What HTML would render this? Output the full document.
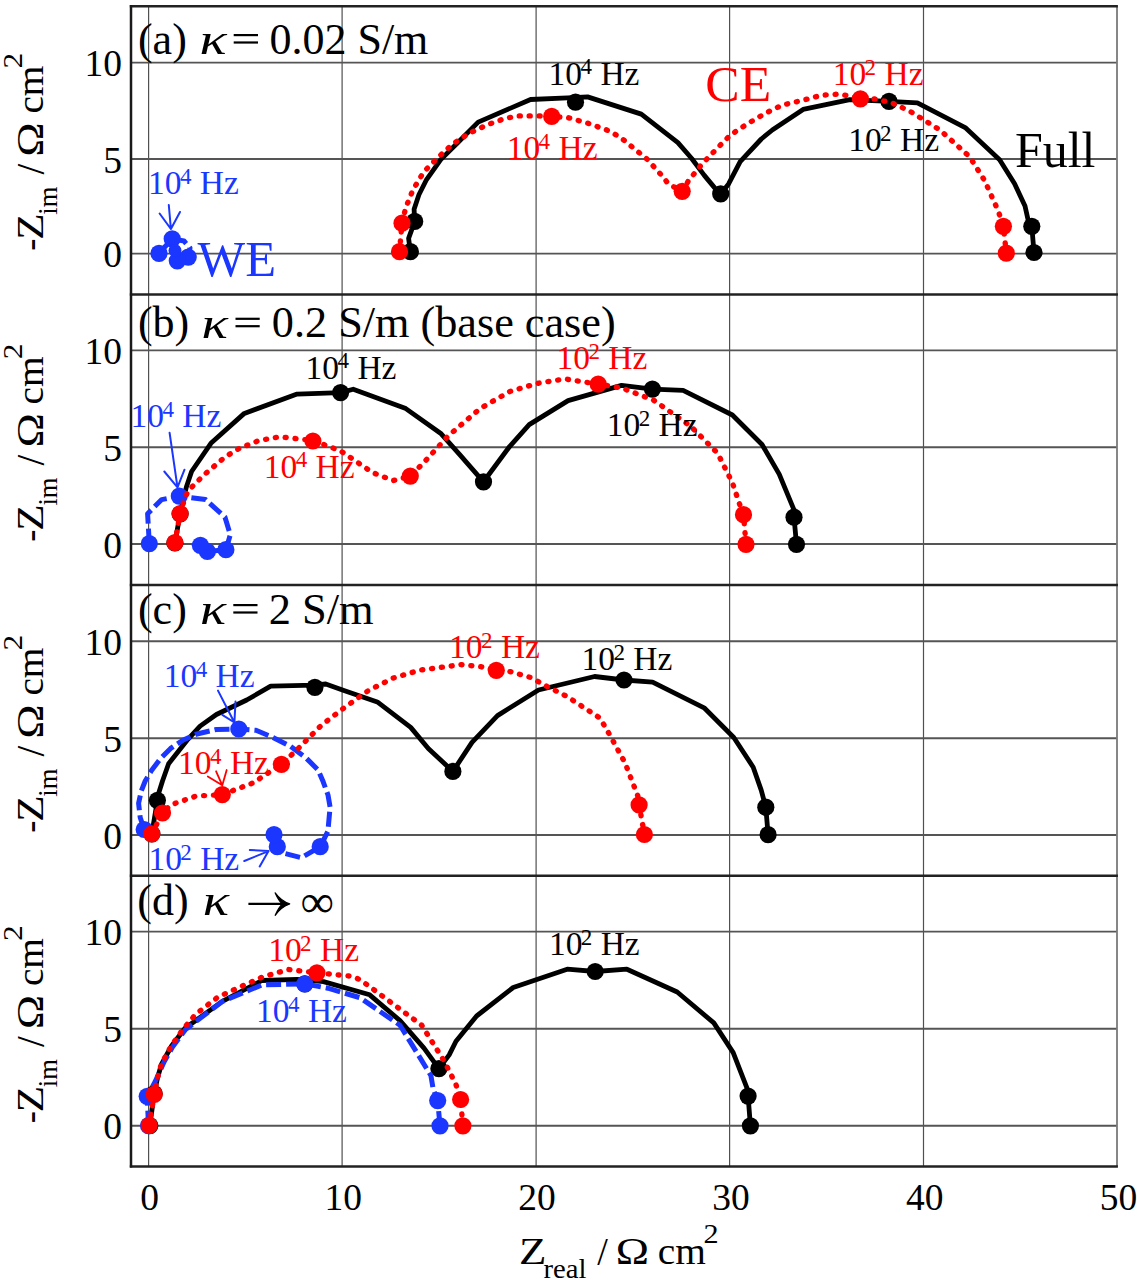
<!DOCTYPE html><html><head><meta charset="utf-8"><style>html,body{margin:0;padding:0;background:#fff;}svg{display:block}text{font-family:"Liberation Serif",serif;}</style></head><body>
<div id="w">
<svg width="1137" height="1280" viewBox="0 0 1137 1280">
<rect x="0" y="0" width="1137" height="1280" fill="#fff"/>
<line x1="148.6" y1="6.2" x2="148.6" y2="294.6" stroke="#505050" stroke-width="1.2"/>
<line x1="342.1" y1="6.2" x2="342.1" y2="294.6" stroke="#505050" stroke-width="1.2"/>
<line x1="536.1" y1="6.2" x2="536.1" y2="294.6" stroke="#505050" stroke-width="1.2"/>
<line x1="729.6" y1="6.2" x2="729.6" y2="294.6" stroke="#505050" stroke-width="1.2"/>
<line x1="923.5" y1="6.2" x2="923.5" y2="294.6" stroke="#505050" stroke-width="1.2"/>
<line x1="131.0" y1="62.6" x2="1117.0" y2="62.6" stroke="#555" stroke-width="1.9"/>
<line x1="131.0" y1="159.0" x2="1117.0" y2="159.0" stroke="#555" stroke-width="1.9"/>
<line x1="131.0" y1="253.6" x2="1117.0" y2="253.6" stroke="#555" stroke-width="1.9"/>
<line x1="148.6" y1="294.6" x2="148.6" y2="585.0" stroke="#505050" stroke-width="1.2"/>
<line x1="342.1" y1="294.6" x2="342.1" y2="585.0" stroke="#505050" stroke-width="1.2"/>
<line x1="536.1" y1="294.6" x2="536.1" y2="585.0" stroke="#505050" stroke-width="1.2"/>
<line x1="729.6" y1="294.6" x2="729.6" y2="585.0" stroke="#505050" stroke-width="1.2"/>
<line x1="923.5" y1="294.6" x2="923.5" y2="585.0" stroke="#505050" stroke-width="1.2"/>
<line x1="131.0" y1="350.4" x2="1117.0" y2="350.4" stroke="#555" stroke-width="1.9"/>
<line x1="131.0" y1="447.2" x2="1117.0" y2="447.2" stroke="#555" stroke-width="1.9"/>
<line x1="131.0" y1="544.0" x2="1117.0" y2="544.0" stroke="#555" stroke-width="1.9"/>
<line x1="148.6" y1="585.0" x2="148.6" y2="875.8" stroke="#505050" stroke-width="1.2"/>
<line x1="342.1" y1="585.0" x2="342.1" y2="875.8" stroke="#505050" stroke-width="1.2"/>
<line x1="536.1" y1="585.0" x2="536.1" y2="875.8" stroke="#505050" stroke-width="1.2"/>
<line x1="729.6" y1="585.0" x2="729.6" y2="875.8" stroke="#505050" stroke-width="1.2"/>
<line x1="923.5" y1="585.0" x2="923.5" y2="875.8" stroke="#505050" stroke-width="1.2"/>
<line x1="131.0" y1="641.3" x2="1117.0" y2="641.3" stroke="#555" stroke-width="1.9"/>
<line x1="131.0" y1="738.2" x2="1117.0" y2="738.2" stroke="#555" stroke-width="1.9"/>
<line x1="131.0" y1="835.0" x2="1117.0" y2="835.0" stroke="#555" stroke-width="1.9"/>
<line x1="148.6" y1="875.8" x2="148.6" y2="1166.4" stroke="#505050" stroke-width="1.2"/>
<line x1="342.1" y1="875.8" x2="342.1" y2="1166.4" stroke="#505050" stroke-width="1.2"/>
<line x1="536.1" y1="875.8" x2="536.1" y2="1166.4" stroke="#505050" stroke-width="1.2"/>
<line x1="729.6" y1="875.8" x2="729.6" y2="1166.4" stroke="#505050" stroke-width="1.2"/>
<line x1="923.5" y1="875.8" x2="923.5" y2="1166.4" stroke="#505050" stroke-width="1.2"/>
<line x1="131.0" y1="931.6" x2="1117.0" y2="931.6" stroke="#555" stroke-width="1.9"/>
<line x1="131.0" y1="1028.7" x2="1117.0" y2="1028.7" stroke="#555" stroke-width="1.9"/>
<line x1="131.0" y1="1125.7" x2="1117.0" y2="1125.7" stroke="#555" stroke-width="1.9"/>
<line x1="1117.0" y1="6.2" x2="1117.0" y2="1166.4" stroke="#7a7a7a" stroke-width="1.8"/>
<line x1="129.8" y1="6.2" x2="1117.9" y2="6.2" stroke="#222" stroke-width="2.5"/>
<line x1="129.8" y1="294.6" x2="1117.9" y2="294.6" stroke="#222" stroke-width="2.5"/>
<line x1="129.8" y1="585.0" x2="1117.9" y2="585.0" stroke="#222" stroke-width="2.5"/>
<line x1="129.8" y1="875.8" x2="1117.9" y2="875.8" stroke="#222" stroke-width="2.5"/>
<line x1="129.8" y1="1166.4" x2="1117.9" y2="1166.4" stroke="#222" stroke-width="2.5"/>
<line x1="131.0" y1="5.0" x2="131.0" y2="1167.6000000000001" stroke="#1a1a1a" stroke-width="2.5"/>
<polyline points="410.4,251.7 408.6,238.4 414.7,221.4 414.1,209.3 418.9,194.8 426.2,180.2 440.7,159.6 457.7,142.7 478.2,122.1 530.6,99.5 567.5,97.9 587.6,96.9 641.3,114.1 677.9,142.7 691.7,158.5 704.3,175.4 714.9,188.1 720.7,193.9 728.6,183.9 740.2,161.7 761.3,139.0 772.3,130.0 803.1,109.4 849.9,99.6 889.0,101.4 917.4,102.9 965.2,127.6 999.6,159.8 1014.6,183.7 1025.0,206.1 1028.0,219.6 1031.8,226.3 1034.0,252.5" fill="none" stroke="#000" stroke-width="4.8" stroke-linejoin="round" stroke-linecap="round"/>
<circle cx="410.4" cy="251.7" r="8.6" fill="#000"/>
<circle cx="414.7" cy="221.4" r="8.6" fill="#000"/>
<circle cx="575.5" cy="102.2" r="8.6" fill="#000"/>
<circle cx="720.7" cy="193.9" r="8.6" fill="#000"/>
<circle cx="889.0" cy="101.4" r="8.6" fill="#000"/>
<circle cx="1031.8" cy="226.3" r="8.6" fill="#000"/>
<circle cx="1034.0" cy="252.5" r="8.6" fill="#000"/>
<polyline points="159.0,253.4 172.2,238.8 184.0,241.0 190.0,248.0 188.2,257.1 177.3,260.8" fill="none" stroke="#1a36ff" stroke-width="5.0" stroke-dasharray="15 5" stroke-linejoin="round"/>
<circle cx="159.0" cy="253.4" r="8.6" fill="#1a36ff"/>
<circle cx="172.2" cy="238.8" r="8.6" fill="#1a36ff"/>
<circle cx="188.2" cy="257.1" r="8.6" fill="#1a36ff"/>
<circle cx="177.3" cy="260.8" r="8.6" fill="#1a36ff"/>
<polyline points="399.5,251.7 402.0,223.2 405.6,208.1 412.9,189.9 423.8,171.8 438.3,157.2 452.8,143.9 469.8,133.0 487.9,124.5 505.0,118.5 518.0,115.9 539.0,115.9 551.7,116.4 567.5,117.5 587.8,123.2 607.5,130.3 620.0,137.0 647.0,159.1 661.0,174.6 668.4,183.9 682.2,191.3 688.5,180.7 702.2,163.8 715.9,149.6 730.7,134.8 747.6,123.7 765.5,113.2 782.2,105.1 803.1,100.2 821.6,95.2 840.0,94.0 860.4,98.9 874.5,98.9 892.0,102.9 909.9,111.2 939.8,129.9 969.7,156.8 984.7,180.7 998.1,210.6 1003.4,226.3 1006.3,253.2" fill="none" stroke="#ff0000" stroke-width="5.4" stroke-dasharray="1.0 8.9" stroke-linecap="round" stroke-linejoin="round"/>
<circle cx="399.5" cy="251.7" r="8.6" fill="#ff0000"/>
<circle cx="402.0" cy="223.2" r="8.6" fill="#ff0000"/>
<circle cx="551.7" cy="116.4" r="8.6" fill="#ff0000"/>
<circle cx="682.2" cy="191.3" r="8.6" fill="#ff0000"/>
<circle cx="860.4" cy="98.9" r="8.6" fill="#ff0000"/>
<circle cx="1003.4" cy="226.3" r="8.6" fill="#ff0000"/>
<circle cx="1006.3" cy="253.2" r="8.6" fill="#ff0000"/>
<polyline points="174.9,543.0 180.1,514.0 186.3,487.3 191.6,471.5 210.9,443.3 244.3,413.4 297.1,394.1 340.6,392.6 353.2,389.2 405.8,408.6 441.2,433.8 459.5,454.3 483.5,481.8 509.8,446.3 529.2,424.6 568.1,400.6 621.6,385.4 652.4,389.1 683.1,390.3 732.4,415.0 762.0,444.5 779.2,474.1 794.0,509.8 794.0,517.2 796.5,544.3" fill="none" stroke="#000" stroke-width="4.8" stroke-linejoin="round" stroke-linecap="round"/>
<circle cx="174.9" cy="543.0" r="8.6" fill="#000"/>
<circle cx="180.1" cy="514.0" r="8.6" fill="#000"/>
<circle cx="340.6" cy="392.6" r="8.6" fill="#000"/>
<circle cx="483.5" cy="481.8" r="8.6" fill="#000"/>
<circle cx="652.4" cy="389.1" r="8.6" fill="#000"/>
<circle cx="794.0" cy="517.2" r="8.6" fill="#000"/>
<circle cx="796.5" cy="544.3" r="8.6" fill="#000"/>
<polyline points="149.3,543.6 147.6,513.7 161.7,499.6 179.3,496.1 205.6,499.6 225.0,517.2 230.3,534.8 225.9,549.7 207.4,551.5 200.4,545.3" fill="none" stroke="#1a36ff" stroke-width="5.0" stroke-dasharray="15 5" stroke-linejoin="round"/>
<circle cx="149.3" cy="543.6" r="8.6" fill="#1a36ff"/>
<circle cx="179.3" cy="496.1" r="8.6" fill="#1a36ff"/>
<circle cx="225.9" cy="549.7" r="8.6" fill="#1a36ff"/>
<circle cx="207.4" cy="551.5" r="8.6" fill="#1a36ff"/>
<circle cx="200.4" cy="545.3" r="8.6" fill="#1a36ff"/>
<polyline points="174.9,542.7 180.1,513.7 184.5,499.6 188.0,490.8 203.9,475.0 225.0,457.0 239.1,448.5 259.0,440.5 279.5,436.8 312.9,440.5 340.6,450.9 372.6,472.6 393.2,480.6 410.3,476.1 422.9,463.5 448.1,436.0 480.1,408.6 509.8,391.5 537.2,383.4 564.7,378.9 598.2,384.2 621.6,387.9 653.6,400.2 690.5,426.1 717.6,453.2 732.4,482.7 742.3,512.3 743.5,514.7 746.0,544.3" fill="none" stroke="#ff0000" stroke-width="5.4" stroke-dasharray="1.0 8.9" stroke-linecap="round" stroke-linejoin="round"/>
<circle cx="174.9" cy="542.7" r="8.6" fill="#ff0000"/>
<circle cx="180.1" cy="513.7" r="8.6" fill="#ff0000"/>
<circle cx="312.9" cy="441.0" r="8.6" fill="#ff0000"/>
<circle cx="410.3" cy="476.1" r="8.6" fill="#ff0000"/>
<circle cx="598.2" cy="384.2" r="8.6" fill="#ff0000"/>
<circle cx="743.5" cy="514.7" r="8.6" fill="#ff0000"/>
<circle cx="746.0" cy="544.3" r="8.6" fill="#ff0000"/>
<polyline points="151.8,833.8 157.4,800.3 157.4,797.2 162.5,781.0 168.6,763.7 187.9,739.3 200.1,726.1 216.4,714.5 246.7,700.0 270.7,686.2 314.7,685.1 325.7,684.0 343.9,690.5 377.3,701.9 410.7,727.4 428.3,748.5 452.9,771.4 472.0,742.4 497.5,715.6 538.5,690.0 594.6,676.5 624.0,680.0 652.6,682.1 704.1,707.8 733.8,737.5 753.2,767.2 761.2,790.1 765.8,807.2 768.1,834.7" fill="none" stroke="#000" stroke-width="4.8" stroke-linejoin="round" stroke-linecap="round"/>
<circle cx="151.8" cy="833.8" r="8.6" fill="#000"/>
<circle cx="157.4" cy="800.3" r="8.6" fill="#000"/>
<circle cx="314.9" cy="687.3" r="8.6" fill="#000"/>
<circle cx="452.9" cy="771.4" r="8.6" fill="#000"/>
<circle cx="624.0" cy="680.0" r="8.6" fill="#000"/>
<circle cx="765.8" cy="807.2" r="8.6" fill="#000"/>
<circle cx="768.1" cy="834.7" r="8.6" fill="#000"/>
<polyline points="144.2,829.5 140.2,817.5 138.6,803.3 141.2,791.1 145.2,781.0 151.3,770.8 160.5,758.6 170.6,748.4 182.8,740.3 196.0,734.2 216.4,729.5 238.8,729.0 256.0,730.3 271.8,736.9 290.3,746.2 306.1,758.0 318.0,769.9 323.2,781.8 328.0,795.0 330.1,807.1 327.9,831.3 320.2,846.7 301.5,857.7 283.9,853.3 277.3,846.7 274.0,834.6" fill="none" stroke="#1a36ff" stroke-width="5.0" stroke-dasharray="15 5" stroke-linejoin="round"/>
<circle cx="144.2" cy="829.5" r="8.6" fill="#1a36ff"/>
<circle cx="238.8" cy="729.0" r="8.6" fill="#1a36ff"/>
<circle cx="320.2" cy="846.7" r="8.6" fill="#1a36ff"/>
<circle cx="277.3" cy="846.7" r="8.6" fill="#1a36ff"/>
<circle cx="274.0" cy="834.6" r="8.6" fill="#1a36ff"/>
<polyline points="151.8,833.8 162.5,813.0 170.7,804.9 196.0,796.1 222.3,794.6 253.1,782.9 281.4,764.3 296.4,750.3 321.0,725.6 343.9,708.0 368.5,690.5 393.1,678.1 419.5,670.2 445.9,666.7 461.1,664.6 480.8,666.7 496.3,670.3 510.4,671.7 530.1,677.3 547.0,686.4 566.7,696.3 600.0,718.1 609.7,734.8 625.0,762.8 637.8,796.0 639.1,804.9 644.4,834.5" fill="none" stroke="#ff0000" stroke-width="5.4" stroke-dasharray="1.0 8.9" stroke-linecap="round" stroke-linejoin="round"/>
<circle cx="151.8" cy="833.8" r="8.6" fill="#ff0000"/>
<circle cx="162.5" cy="813.0" r="8.6" fill="#ff0000"/>
<circle cx="222.3" cy="794.6" r="8.6" fill="#ff0000"/>
<circle cx="281.4" cy="764.3" r="8.6" fill="#ff0000"/>
<circle cx="496.3" cy="670.3" r="8.6" fill="#ff0000"/>
<circle cx="639.1" cy="804.9" r="8.6" fill="#ff0000"/>
<circle cx="644.4" cy="834.5" r="8.6" fill="#ff0000"/>
<polyline points="149.8,1125.6 154.2,1093.7 157.5,1078.0 161.4,1064.5 171.5,1046.0 185.0,1028.3 222.3,1001.4 261.9,980.5 297.1,979.4 323.5,981.6 369.7,994.8 400.0,1020.6 424.0,1048.1 438.9,1068.6 449.2,1054.9 456.0,1041.2 476.6,1016.0 513.2,987.5 567.2,969.2 595.2,971.5 626.9,969.2 677.2,992.0 713.8,1022.9 733.2,1052.6 747.0,1088.1 748.1,1096.1 750.4,1125.8" fill="none" stroke="#000" stroke-width="4.8" stroke-linejoin="round" stroke-linecap="round"/>
<circle cx="149.8" cy="1125.6" r="8.6" fill="#000"/>
<circle cx="154.2" cy="1093.7" r="8.6" fill="#000"/>
<circle cx="304.8" cy="983.8" r="8.6" fill="#000"/>
<circle cx="438.9" cy="1068.6" r="8.6" fill="#000"/>
<circle cx="595.2" cy="971.5" r="8.6" fill="#000"/>
<circle cx="748.1" cy="1096.1" r="8.6" fill="#000"/>
<circle cx="750.4" cy="1125.8" r="8.6" fill="#000"/>
<polyline points="148.5,1125.6 147.2,1096.3 155.0,1082.0 159.5,1072.0 164.0,1062.0 172.5,1047.0 185.5,1029.5 222.3,1001.4 261.9,984.9 304.8,983.8 327.9,988.2 360.0,997.7 400.0,1025.2 430.9,1075.5 433.2,1089.2 437.7,1100.6 440.0,1125.8" fill="none" stroke="#1a36ff" stroke-width="5.0" stroke-dasharray="15 5" stroke-linejoin="round"/>
<circle cx="148.5" cy="1125.6" r="8.6" fill="#1a36ff"/>
<circle cx="147.2" cy="1096.3" r="8.6" fill="#1a36ff"/>
<circle cx="304.8" cy="983.8" r="8.6" fill="#1a36ff"/>
<circle cx="437.7" cy="1100.6" r="8.6" fill="#1a36ff"/>
<circle cx="440.0" cy="1125.8" r="8.6" fill="#1a36ff"/>
<polyline points="149.2,1125.3 154.2,1094.3 157.5,1078.0 161.4,1063.8 171.5,1045.5 183.7,1028.3 195.9,1014.1 218.0,997.0 261.9,977.2 288.3,969.5 316.9,972.8 349.9,976.1 360.0,979.5 421.7,1025.2 444.6,1061.8 456.0,1084.6 460.6,1099.5 462.9,1125.8" fill="none" stroke="#ff0000" stroke-width="5.4" stroke-dasharray="1.0 8.9" stroke-linecap="round" stroke-linejoin="round"/>
<circle cx="149.2" cy="1125.3" r="8.6" fill="#ff0000"/>
<circle cx="154.2" cy="1094.3" r="8.6" fill="#ff0000"/>
<circle cx="316.9" cy="972.8" r="8.6" fill="#ff0000"/>
<circle cx="460.6" cy="1099.5" r="8.6" fill="#ff0000"/>
<circle cx="462.9" cy="1125.8" r="8.6" fill="#ff0000"/>
<circle cx="175.0" cy="250.5" r="6.5" fill="#1a36ff"/>
<text x="548.6" y="84.5" font-size="33.5" fill="#000">10<tspan font-size="23" dx="-1.6" dy="-10.2">4</tspan><tspan dy="10.2"> Hz</tspan></text>
<text x="506.7" y="158.9" font-size="33.5" fill="#ff0000">10<tspan font-size="23" dx="-1.6" dy="-10.2">4</tspan><tspan dy="10.2"> Hz</tspan></text>
<text x="148.0" y="193.8" font-size="33.5" fill="#1a36ff">10<tspan font-size="23" dx="-1.6" dy="-10.2">4</tspan><tspan dy="10.2"> Hz</tspan></text>
<text x="832.7" y="85.2" font-size="33.5" fill="#ff0000">10<tspan font-size="23" dx="-1.6" dy="-10.2">2</tspan><tspan dy="10.2"> Hz</tspan></text>
<text x="848.2" y="151.3" font-size="33.5" fill="#000">10<tspan font-size="23" dx="-1.6" dy="-10.2">2</tspan><tspan dy="10.2"> Hz</tspan></text>
<text x="705.3" y="100.6" font-size="51.5" fill="#ff0000">CE</text>
<text x="1014.9" y="167.4" font-size="50" fill="#000">Full</text>
<text x="197.5" y="276.3" font-size="50.5" fill="#1a36ff">WE</text>
<text x="305.6" y="378.6" font-size="33.5" fill="#000">10<tspan font-size="23" dx="-1.6" dy="-10.2">4</tspan><tspan dy="10.2"> Hz</tspan></text>
<text x="130.5" y="427.4" font-size="33.5" fill="#1a36ff">10<tspan font-size="23" dx="-1.6" dy="-10.2">4</tspan><tspan dy="10.2"> Hz</tspan></text>
<text x="263.8" y="477.6" font-size="33.5" fill="#ff0000">10<tspan font-size="23" dx="-1.6" dy="-10.2">4</tspan><tspan dy="10.2"> Hz</tspan></text>
<text x="556.5" y="369.4" font-size="33.5" fill="#ff0000">10<tspan font-size="23" dx="-1.6" dy="-10.2">2</tspan><tspan dy="10.2"> Hz</tspan></text>
<text x="606.8" y="435.9" font-size="33.5" fill="#000">10<tspan font-size="23" dx="-1.6" dy="-10.2">2</tspan><tspan dy="10.2"> Hz</tspan></text>
<text x="163.8" y="687.3" font-size="33.5" fill="#1a36ff">10<tspan font-size="23" dx="-1.6" dy="-10.2">4</tspan><tspan dy="10.2"> Hz</tspan></text>
<text x="178.1" y="774.1" font-size="33.5" fill="#ff0000">10<tspan font-size="23" dx="-1.6" dy="-10.2">4</tspan><tspan dy="10.2"> Hz</tspan></text>
<text x="148.4" y="869.8" font-size="33.5" fill="#1a36ff">10<tspan font-size="23" dx="-1.6" dy="-10.2">2</tspan><tspan dy="10.2"> Hz</tspan></text>
<text x="449.1" y="658.3" font-size="33.5" fill="#ff0000">10<tspan font-size="23" dx="-1.6" dy="-10.2">2</tspan><tspan dy="10.2"> Hz</tspan></text>
<text x="581.5" y="670.0" font-size="33.5" fill="#000">10<tspan font-size="23" dx="-1.6" dy="-10.2">2</tspan><tspan dy="10.2"> Hz</tspan></text>
<text x="268.2" y="960.7" font-size="33.5" fill="#ff0000">10<tspan font-size="23" dx="-1.6" dy="-10.2">2</tspan><tspan dy="10.2"> Hz</tspan></text>
<text x="256.1" y="1022.2" font-size="33.5" fill="#1a36ff">10<tspan font-size="23" dx="-1.6" dy="-10.2">4</tspan><tspan dy="10.2"> Hz</tspan></text>
<text x="548.9" y="955.4" font-size="33.5" fill="#000">10<tspan font-size="23" dx="-1.6" dy="-10.2">2</tspan><tspan dy="10.2"> Hz</tspan></text>
<path d="M168.8,205 L170.9,229 M159.6,213.5 L170.9,229 L180,212" fill="none" stroke="#1a36ff" stroke-width="2.0" stroke-linecap="round" stroke-linejoin="round"/>
<path d="M169.6,432.8 L177.5,487.3 M164.3,471.5 L177.5,487.3 L184.5,469.7" fill="none" stroke="#1a36ff" stroke-width="2.0" stroke-linecap="round" stroke-linejoin="round"/>
<path d="M218,690.6 L234.4,722.5 M222.3,714.8 L234.4,722.5 L235.5,701.6" fill="none" stroke="#1a36ff" stroke-width="2.0" stroke-linecap="round" stroke-linejoin="round"/>
<path d="M244.3,861 L268.5,851.1 M249.8,850 L268.5,851.1 L259.7,866.5" fill="none" stroke="#1a36ff" stroke-width="2.0" stroke-linecap="round" stroke-linejoin="round"/>
<path d="M216.1,771.3 L222.3,785.3 M207.8,776.5 L222.3,785.3 L226.7,770" fill="none" stroke="#ff0000" stroke-width="1.8" stroke-linecap="round" stroke-linejoin="round"/>
<text x="137.96" y="53.50" font-size="44" fill="#000">(a)</text>
<text transform="translate(199.61,53.80) scale(1.2865,1.0)" x="0" y="0" font-size="44" fill="#000" font-style="italic">κ</text>
<rect x="233.7" y="34.00" width="24.30" height="2.2" fill="#000"/>
<rect x="233.7" y="41.40" width="24.30" height="2.2" fill="#000"/>
<text x="269.43" y="53.50" font-size="44" fill="#000">0.02 S/m</text>
<text x="137.96" y="337.20" font-size="44" fill="#000">(b)</text>
<text transform="translate(201.46,337.50) scale(1.2515,1.0)" x="0" y="0" font-size="44" fill="#000" font-style="italic">κ</text>
<rect x="235.5" y="317.70" width="24.20" height="2.2" fill="#000"/>
<rect x="235.5" y="325.10" width="24.20" height="2.2" fill="#000"/>
<text transform="translate(271.82,337.20) scale(1.0050,1.0)" x="0" y="0" font-size="44" fill="#000">0.2 S/m (base case)</text>
<text x="137.96" y="623.50" font-size="44" fill="#000">(c)</text>
<text transform="translate(199.99,623.80) scale(1.2365,1.0)" x="0" y="0" font-size="44" fill="#000" font-style="italic">κ</text>
<rect x="233.3" y="604.00" width="24.20" height="2.2" fill="#000"/>
<rect x="233.3" y="611.40" width="24.20" height="2.2" fill="#000"/>
<text transform="translate(268.64,623.50) scale(1.0100,1.0)" x="0" y="0" font-size="44" fill="#000">2 S/m</text>
<text x="137.26" y="914.70" font-size="44" fill="#000">(d)</text>
<text transform="translate(202.77,915.00) scale(1.2465,1.0)" x="0" y="0" font-size="44" fill="#000" font-style="italic">κ</text>
<path d="M248.4,903.9 L286,903.9" stroke="#000" stroke-width="2.2" fill="none"/>
<path d="M275.2,892.9 Q281,901 289.7,903.9 Q281,907 275.2,915.3 Q279,906.5 282.5,903.9 Q279,901.5 275.2,892.9 Z" fill="#000" stroke="#000" stroke-width="1.2" stroke-linejoin="round"/>
<text transform="translate(300.62,916.90) scale(1.0204,1.0)" x="0" y="0" font-size="46" fill="#000">∞</text>
<text x="122" y="76.1" font-size="37.5" text-anchor="end" fill="#000">10</text>
<text x="122" y="172.5" font-size="37.5" text-anchor="end" fill="#000">5</text>
<text x="122" y="267.1" font-size="37.5" text-anchor="end" fill="#000">0</text>
<text x="122" y="363.9" font-size="37.5" text-anchor="end" fill="#000">10</text>
<text x="122" y="460.7" font-size="37.5" text-anchor="end" fill="#000">5</text>
<text x="122" y="557.5" font-size="37.5" text-anchor="end" fill="#000">0</text>
<text x="122" y="654.8" font-size="37.5" text-anchor="end" fill="#000">10</text>
<text x="122" y="751.7" font-size="37.5" text-anchor="end" fill="#000">5</text>
<text x="122" y="848.5" font-size="37.5" text-anchor="end" fill="#000">0</text>
<text x="122" y="945.1" font-size="37.5" text-anchor="end" fill="#000">10</text>
<text x="122" y="1042.2" font-size="37.5" text-anchor="end" fill="#000">5</text>
<text x="122" y="1139.2" font-size="37.5" text-anchor="end" fill="#000">0</text>
<text x="149.5" y="1209.5" font-size="37.5" text-anchor="middle" fill="#000">0</text>
<text x="343.3" y="1209.5" font-size="37.5" text-anchor="middle" fill="#000">10</text>
<text x="537.1" y="1209.5" font-size="37.5" text-anchor="middle" fill="#000">20</text>
<text x="730.9" y="1209.5" font-size="37.5" text-anchor="middle" fill="#000">30</text>
<text x="924.7" y="1209.5" font-size="37.5" text-anchor="middle" fill="#000">40</text>
<text x="1118.5" y="1209.5" font-size="37.5" text-anchor="middle" fill="#000">50</text>
<g transform="translate(521.2,1264)"><text transform="translate(-2.15,0.00) scale(1.1811,1.0)" x="0" y="0" font-size="38" fill="#000">Z</text><text transform="translate(22.23,14.40) scale(1.0232,1.0)" x="0" y="0" font-size="28" fill="#000">real</text><text transform="translate(76.00,0.60) scale(0.9532,1.0)" x="0" y="0" font-size="40" fill="#000">/</text><text transform="translate(94.67,0.00) scale(1.1935,1.0)" x="0" y="0" font-size="37.5" fill="#000">Ω</text><text transform="translate(136.60,0.00) scale(1.0502,1.0)" x="0" y="0" font-size="37.5" fill="#000">cm</text><text transform="translate(182.27,-21.20) scale(1.1176,1.0)" x="0" y="0" font-size="27" fill="#000">2</text></g>
<g transform="translate(43.2,249.7) rotate(-90)"><text transform="translate(-1.05,0.00) scale(0.9615,1.0)" x="0" y="0" font-size="38" fill="#000">-</text><text transform="translate(9.93,0.00) scale(1.1345,1.0)" x="0" y="0" font-size="38" fill="#000">Z</text><text transform="translate(35.04,13.60) scale(0.9498,1.0)" x="0" y="0" font-size="28" fill="#000">im</text><text transform="translate(75.20,0.60) scale(0.9622,1.0)" x="0" y="0" font-size="40" fill="#000">/</text><text transform="translate(92.99,0.00) scale(1.2353,1.0)" x="0" y="0" font-size="37.5" fill="#000">Ω</text><text transform="translate(136.10,0.00) scale(1.0502,1.0)" x="0" y="0" font-size="37.5" fill="#000">cm</text><text transform="translate(181.32,-21.20) scale(1.1638,1.0)" x="0" y="0" font-size="27" fill="#000">2</text></g>
<g transform="translate(43.2,540.6) rotate(-90)"><text transform="translate(-1.05,0.00) scale(0.9615,1.0)" x="0" y="0" font-size="38" fill="#000">-</text><text transform="translate(9.93,0.00) scale(1.1345,1.0)" x="0" y="0" font-size="38" fill="#000">Z</text><text transform="translate(35.04,13.60) scale(0.9498,1.0)" x="0" y="0" font-size="28" fill="#000">im</text><text transform="translate(75.20,0.60) scale(0.9622,1.0)" x="0" y="0" font-size="40" fill="#000">/</text><text transform="translate(92.99,0.00) scale(1.2353,1.0)" x="0" y="0" font-size="37.5" fill="#000">Ω</text><text transform="translate(136.10,0.00) scale(1.0502,1.0)" x="0" y="0" font-size="37.5" fill="#000">cm</text><text transform="translate(181.32,-21.20) scale(1.1638,1.0)" x="0" y="0" font-size="27" fill="#000">2</text></g>
<g transform="translate(43.2,831.7) rotate(-90)"><text transform="translate(-1.05,0.00) scale(0.9615,1.0)" x="0" y="0" font-size="38" fill="#000">-</text><text transform="translate(9.93,0.00) scale(1.1345,1.0)" x="0" y="0" font-size="38" fill="#000">Z</text><text transform="translate(35.04,13.60) scale(0.9498,1.0)" x="0" y="0" font-size="28" fill="#000">im</text><text transform="translate(75.20,0.60) scale(0.9622,1.0)" x="0" y="0" font-size="40" fill="#000">/</text><text transform="translate(92.99,0.00) scale(1.2353,1.0)" x="0" y="0" font-size="37.5" fill="#000">Ω</text><text transform="translate(136.10,0.00) scale(1.0502,1.0)" x="0" y="0" font-size="37.5" fill="#000">cm</text><text transform="translate(181.32,-21.20) scale(1.1638,1.0)" x="0" y="0" font-size="27" fill="#000">2</text></g>
<g transform="translate(43.2,1122.2) rotate(-90)"><text transform="translate(-1.05,0.00) scale(0.9615,1.0)" x="0" y="0" font-size="38" fill="#000">-</text><text transform="translate(9.93,0.00) scale(1.1345,1.0)" x="0" y="0" font-size="38" fill="#000">Z</text><text transform="translate(35.04,13.60) scale(0.9498,1.0)" x="0" y="0" font-size="28" fill="#000">im</text><text transform="translate(75.20,0.60) scale(0.9622,1.0)" x="0" y="0" font-size="40" fill="#000">/</text><text transform="translate(92.99,0.00) scale(1.2353,1.0)" x="0" y="0" font-size="37.5" fill="#000">Ω</text><text transform="translate(136.10,0.00) scale(1.0502,1.0)" x="0" y="0" font-size="37.5" fill="#000">cm</text><text transform="translate(181.32,-21.20) scale(1.1638,1.0)" x="0" y="0" font-size="27" fill="#000">2</text></g>
</svg></div></body></html>
